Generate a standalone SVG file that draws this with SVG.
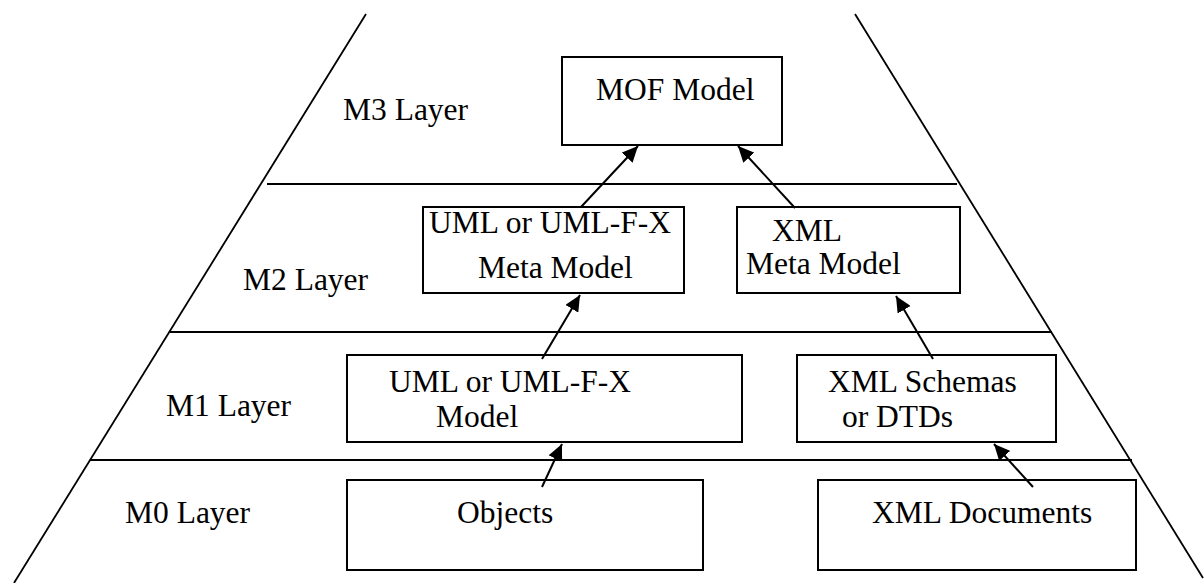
<svg xmlns="http://www.w3.org/2000/svg" width="1204" height="583" viewBox="0 0 1204 583">
<style>
text{font-family:"Liberation Serif","Times New Roman",serif;font-size:31.5px;fill:#000}
.box{fill:#fff;stroke:#000;stroke-width:2}
.lay{stroke:#000;stroke-width:1.8;fill:none}
.con{stroke:#000;stroke-width:2;fill:none;marker-end:url(#ah)}
</style>
<defs>
<marker id="ah" viewBox="0 0 16 15" refX="16" refY="7.5" markerWidth="16" markerHeight="15" markerUnits="userSpaceOnUse" orient="auto">
<path d="M0,0 L16,7.5 L0,15 z" fill="#000"/>
</marker>
</defs>
<rect width="1204" height="583" fill="#fff"/>
<g id="pyramid">
<line class="lay" x1="366" y1="14" x2="14" y2="583"/>
<line class="lay" x1="855" y1="14" x2="1203" y2="578"/>
<line class="lay" x1="267" y1="184" x2="957" y2="184"/>
<line class="lay" x1="170" y1="332" x2="1052" y2="332"/>
<line class="lay" x1="90" y1="460" x2="1132" y2="460"/>
</g>
<g id="labels">
<text x="343" y="120">M3 Layer</text>
<text x="243" y="290">M2 Layer</text>
<text x="166" y="416">M1 Layer</text>
<text x="125" y="523">M0 Layer</text>
</g>
<g id="mof">
<rect class="box" x="562" y="57" width="220" height="88"/>
<text x="596" y="100">MOF Model</text>
</g>
<g id="uml-meta">
<rect class="box" x="423" y="207" width="261" height="86"/>
<text x="429" y="233">UML or UML-F-X</text>
<text x="478" y="278">Meta Model</text>
</g>
<g id="xml-meta">
<rect class="box" x="737" y="207" width="223" height="86"/>
<text x="772" y="241">XML</text>
<text x="746" y="274">Meta Model</text>
</g>
<g id="uml-model">
<rect class="box" x="347" y="355" width="395" height="87"/>
<text x="389" y="392">UML or UML-F-X</text>
<text x="436" y="427">Model</text>
</g>
<g id="xml-schemas">
<rect class="box" x="797" y="355" width="259" height="87"/>
<text x="828" y="392">XML Schemas</text>
<text x="842" y="427">or DTDs</text>
</g>
<g id="objects">
<rect class="box" x="347" y="480" width="356" height="90"/>
<text x="457" y="523">Objects</text>
</g>
<g id="xml-docs">
<rect class="box" x="818" y="480" width="318" height="90"/>
<text x="872" y="523">XML Documents</text>
</g>
<g id="connectors">
<line class="con" x1="581" y1="207" x2="638" y2="146"/>
<line class="con" x1="795" y1="208" x2="738" y2="146"/>
<line class="con" x1="542" y1="359" x2="580" y2="295"/>
<line class="con" x1="933" y1="359" x2="896" y2="296"/>
<line class="con" x1="542" y1="487" x2="562" y2="444"/>
<line class="con" x1="1033" y1="487" x2="994" y2="444"/>
</g>
</svg>
